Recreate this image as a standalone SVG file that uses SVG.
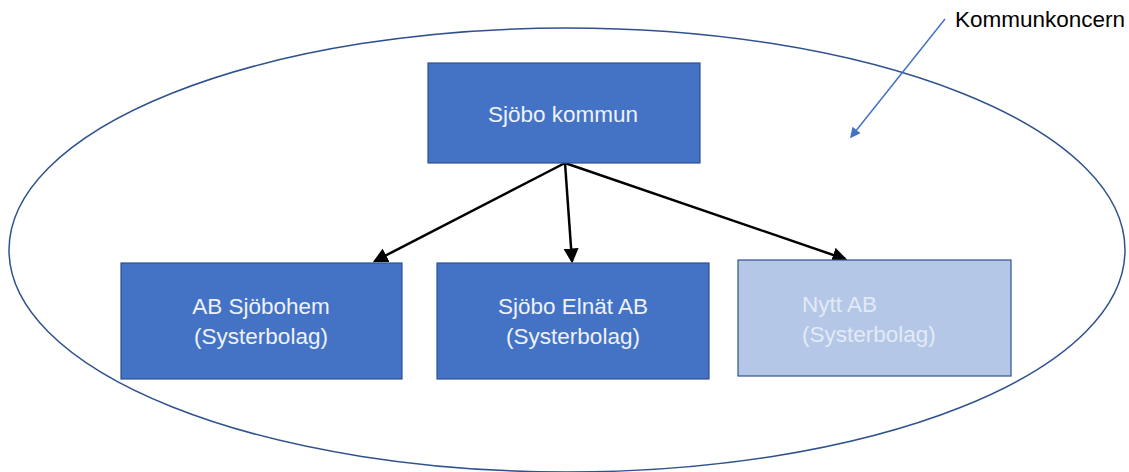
<svg xmlns="http://www.w3.org/2000/svg" width="1129" height="472" viewBox="0 0 1129 472">
<style>
.box{fill:#4472c4;stroke:#2f528f;stroke-width:1.2}
.light{fill:#b4c7e7;stroke:#2f528f;stroke-width:1.2}
.t{font-family:"Liberation Sans",Arial,sans-serif;font-size:22.5px;fill:#eef2fa}
.tl{font-family:"Liberation Sans",Arial,sans-serif;font-size:22.5px;fill:#e3eaf6}
.conn{stroke:#000;stroke-width:2.5;fill:none}
</style>
<defs>
<marker id="ah" markerWidth="6" markerHeight="6" refX="5" refY="3" orient="auto" markerUnits="strokeWidth">
<path d="M0,0 L6,3 L0,6 z" fill="#000"/>
</marker>
<marker id="ahb" markerWidth="7" markerHeight="7" refX="6" refY="3.5" orient="auto" markerUnits="strokeWidth">
<path d="M0,0 L7,3.5 L0,7 z" fill="#4472c4"/>
</marker>
</defs>
<g id="koncern">
<ellipse cx="567" cy="250" rx="558" ry="222" fill="none" stroke="#2f528f" stroke-width="1.5"/>
</g>
<g id="label-kommunkoncern">
<text x="955" y="27" font-family="Liberation Sans,Arial,sans-serif" font-size="22.5" fill="#000">Kommunkoncern</text>
<line x1="945" y1="19" x2="851" y2="137" stroke="#4472c4" stroke-width="1.5" marker-end="url(#ahb)"/>
</g>
<g id="connectors">
<line class="conn" x1="565" y1="163" x2="375" y2="261" marker-end="url(#ah)"/>
<line class="conn" x1="565" y1="163" x2="572" y2="261" marker-end="url(#ah)"/>
<line class="conn" x1="565" y1="163" x2="845" y2="259" marker-end="url(#ah)"/>
</g>
<g id="sjobo-kommun">
<rect class="box" x="428" y="63" width="272" height="100"/>
<text class="t" x="563" y="122" text-anchor="middle">Sjöbo kommun</text>
</g>
<g id="ab-sjobohem">
<rect class="box" x="121" y="263" width="281" height="116"/>
<text class="t" x="261" y="314" text-anchor="middle">AB Sjöbohem</text>
<text class="t" x="261" y="344" text-anchor="middle">(Systerbolag)</text>
</g>
<g id="sjobo-elnat">
<rect class="box" x="437" y="263" width="272" height="116"/>
<text class="t" x="573" y="314" text-anchor="middle">Sjöbo Elnät AB</text>
<text class="t" x="573" y="344" text-anchor="middle">(Systerbolag)</text>
</g>
<g id="nytt-ab">
<rect class="light" x="738" y="260" width="273" height="116"/>
<text class="tl" x="802" y="312">Nytt AB</text>
<text class="tl" x="802" y="342">(Systerbolag)</text>
</g>
</svg>
